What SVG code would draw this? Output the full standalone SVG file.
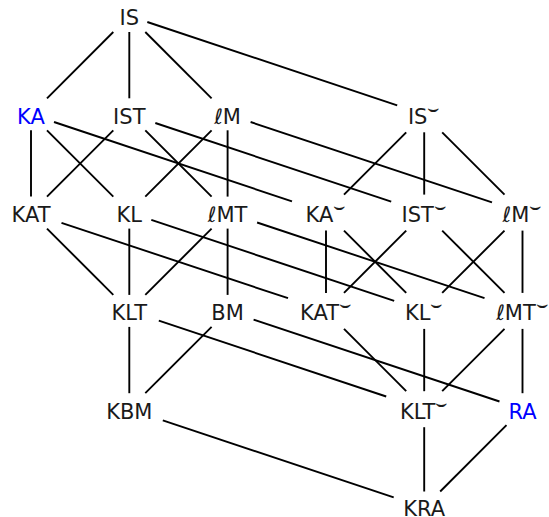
<svg xmlns="http://www.w3.org/2000/svg" width="549" height="517" viewBox="0 0 549 517">
<style>
  .e line { stroke: #000; stroke-width: 1.9; stroke-linecap: butt; }
  text { font-family: "DejaVu Sans", "Noto Sans", sans-serif; font-size: 21px; fill: #1a1a1a; text-anchor: middle; }
  .blue { fill: #0000ff; }
  .sm { font-size: 19px; }
</style>
<rect width="549" height="517" fill="#fff"/>
<g id="connectors" class="e">
  <line x1="113.3" y1="32" x2="47" y2="98.3"/>
  <line x1="129.3" y1="32" x2="129.3" y2="98.3"/>
  <line x1="145.3" y1="32" x2="211.6" y2="98.3"/>
  <line x1="31" y1="130.3" x2="31" y2="196.6"/>
  <line x1="47" y1="130.3" x2="113.3" y2="196.6"/>
  <line x1="113.3" y1="130.3" x2="47" y2="196.6"/>
  <line x1="145.3" y1="130.3" x2="211.6" y2="196.6"/>
  <line x1="211.6" y1="130.3" x2="145.3" y2="196.6"/>
  <line x1="227.6" y1="130.3" x2="227.6" y2="196.6"/>
  <line x1="47" y1="228.6" x2="113.3" y2="294.9"/>
  <line x1="129.3" y1="228.6" x2="129.3" y2="294.9"/>
  <line x1="211.6" y1="228.6" x2="145.3" y2="294.9"/>
  <line x1="227.6" y1="228.6" x2="227.6" y2="294.9"/>
  <line x1="129.3" y1="326.9" x2="129.3" y2="393.2"/>
  <line x1="211.6" y1="326.9" x2="145.3" y2="393.2"/>
  <line x1="406.2" y1="132.3" x2="344" y2="194.6"/>
  <line x1="424.2" y1="132.3" x2="424.2" y2="194.6"/>
  <line x1="442.2" y1="132.3" x2="504.5" y2="194.6"/>
  <line x1="326" y1="230.6" x2="326" y2="292.9"/>
  <line x1="344" y1="230.6" x2="406.2" y2="292.9"/>
  <line x1="406.2" y1="230.6" x2="344" y2="292.9"/>
  <line x1="442.2" y1="230.6" x2="504.5" y2="292.9"/>
  <line x1="504.5" y1="230.6" x2="442.2" y2="292.9"/>
  <line x1="522.5" y1="230.6" x2="522.5" y2="292.9"/>
  <line x1="344" y1="328.9" x2="406.2" y2="391.2"/>
  <line x1="424.2" y1="328.9" x2="424.2" y2="391.2"/>
  <line x1="504.5" y1="328.9" x2="442.2" y2="391.2"/>
  <line x1="522.5" y1="328.9" x2="522.5" y2="393.2"/>
  <line x1="424.2" y1="427.2" x2="424.2" y2="491.5"/>
  <line x1="506.5" y1="425.2" x2="440.2" y2="491.5"/>
  <line x1="147.3" y1="22" x2="397.2" y2="105.3"/>
  <line x1="54" y1="122" x2="292" y2="201.3"/>
  <line x1="155.3" y1="123" x2="391.2" y2="201.6"/>
  <line x1="250.6" y1="122" x2="492" y2="202.4"/>
  <line x1="61.5" y1="222.8" x2="288" y2="298.2"/>
  <line x1="151.3" y1="219.9" x2="394.2" y2="300.9"/>
  <line x1="257.1" y1="222.5" x2="484.5" y2="298.2"/>
  <line x1="158.8" y1="320.7" x2="386.2" y2="396.5"/>
  <line x1="253.6" y1="319.6" x2="499.5" y2="401.5"/>
  <line x1="162.8" y1="420.4" x2="393.7" y2="497.3"/>
</g>
<g id="IS"><text x="129.3" y="25.3">IS</text></g>
<g id="KA"><text class="blue" x="31" y="123.6">KA</text></g>
<g id="IST"><text x="129.3" y="123.6">IST</text></g>
<g id="lM"><text x="227.6" y="123.6">ℓM</text></g>
<g id="KAT"><text x="31" y="221.9">KAT</text></g>
<g id="KL"><text x="129.3" y="221.9">KL</text></g>
<g id="lMT"><text x="227.6" y="221.9">ℓMT</text></g>
<g id="KLT"><text x="129.3" y="320.2">KLT</text></g>
<g id="BM"><text x="227.6" y="320.2">BM</text></g>
<g id="KBM"><text x="129.3" y="418.5">KBM</text></g>
<g id="IS-c"><text x="424.2" y="123.6">IS<tspan class="sm" dy="-10">⌣</tspan></text></g>
<g id="KA-c"><text x="326" y="221.9">KA<tspan class="sm" dy="-10">⌣</tspan></text></g>
<g id="IST-c"><text x="424.2" y="221.9">IST<tspan class="sm" dy="-10">⌣</tspan></text></g>
<g id="lM-c"><text x="522.5" y="221.9">ℓM<tspan class="sm" dy="-10">⌣</tspan></text></g>
<g id="KAT-c"><text x="326" y="320.2">KAT<tspan class="sm" dy="-10">⌣</tspan></text></g>
<g id="KL-c"><text x="424.2" y="320.2">KL<tspan class="sm" dy="-10">⌣</tspan></text></g>
<g id="lMT-c"><text x="522.5" y="320.2">ℓMT<tspan class="sm" dy="-10">⌣</tspan></text></g>
<g id="KLT-c"><text x="424.2" y="418.5">KLT<tspan class="sm" dy="-10">⌣</tspan></text></g>
<g id="RA"><text class="blue" x="522.5" y="418.5">RA</text></g>
<g id="KRA"><text x="424.2" y="515.6">KRA</text></g>
</svg>
